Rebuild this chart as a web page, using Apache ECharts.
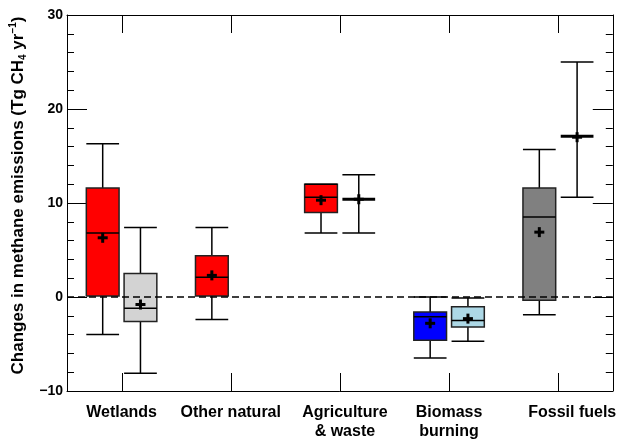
<!DOCTYPE html>
<html>
<head>
<meta charset="utf-8">
<script src="https://cdn.jsdelivr.net/npm/echarts@6/dist/echarts.min.js"></script>
<style>
html,body{margin:0;padding:0;background:#fff;}
#chart{width:619px;height:441px;}
</style>
</head>
<body>
<div id="chart"></div>
<script>
// ---- data ----
const categories = ['Wetlands', 'Other natural', 'Agriculture\n& waste', 'Biomass\nburning', 'Fossil fuels'];
const yTicks = [-10, 0, 10, 20, 30];

// left box of each pair
const leftMin    = [-4.0, -2.4,  6.8, -6.5, -1.9];
const leftQ1     = [ 0.1,  0.1,  9.0, -4.6, -0.35];
const leftMedian = [ 6.8,  2.1, 10.6, -2.1,  8.5];
const leftQ3     = [11.6,  4.4, 12.0, -1.6, 11.6];
const leftMax    = [16.3,  7.4, 12.0,  0.0, 15.7];
const leftMean   = [ 6.3,  2.3, 10.3, -2.8,  6.9];

// right box / whisker of each pair (null = not present)
const rightMin    = [-8.1, null,  6.8, -4.7, 10.6];
const rightQ1     = [-2.6, null, null, -3.2, null];
const rightMedian = [-1.2, null, 10.4, -2.5, 17.1];
const rightQ3     = [ 2.5, null, null, -1.05, null];
const rightMax    = [ 7.4, null, 13.0, -0.1, 25.0];
const rightMean   = [-0.8, null, 10.4, -2.3, 17.0];

// ---- styles ----
const leftColors  = ['#ff0000', '#ff0000', '#ff0000', '#0000ff', '#808080'];
const rightColors = ['#d3d3d3', null, null, '#add8e6', null];
const FONT = '"Liberation Sans", Arial, sans-serif';
const Y_MIN = yTicks[0], Y_MAX = yTicks[yTicks.length - 1];

function seg(x1, y1, x2, y2, w) {
  return { type: 'line', shape: { x1, y1, x2, y2 }, style: { stroke: '#000', lineWidth: w } };
}

function makeRender(mins, q1s, meds, q3s, maxs, means, colors, side) {
  return function (params, api) {
    const i = params.dataIndex;
    if (mins[i] == null) return;
    const bw = api.size([1, 0])[0];
    const cx = api.coord([i, 0])[0] + side * bw * 0.173;
    const half = bw * 0.15;
    const Y = v => api.coord([i, v])[1];
    const ch = [];
    const hasBox = q1s[i] != null && q3s[i] != null;
    if (hasBox) {
      ch.push(seg(cx, Y(maxs[i]), cx, Y(q3s[i]), 1.5));
      ch.push(seg(cx, Y(q1s[i]), cx, Y(mins[i]), 1.5));
      ch.push({
        type: 'rect',
        shape: { x: cx - half, y: Y(q3s[i]), width: 2 * half, height: Y(q1s[i]) - Y(q3s[i]) },
        style: { fill: colors[i], stroke: '#222', lineWidth: 1.5 }
      });
      ch.push(seg(cx - half, Y(meds[i]), cx + half, Y(meds[i]), 1.5));
    } else {
      ch.push(seg(cx, Y(maxs[i]), cx, Y(mins[i]), 1.5));
      ch.push(seg(cx - half, Y(meds[i]), cx + half, Y(meds[i]), 3));
    }
    ch.push(seg(cx - half, Y(maxs[i]), cx + half, Y(maxs[i]), 1.5));
    ch.push(seg(cx - half, Y(mins[i]), cx + half, Y(mins[i]), 1.5));
    const my = Y(means[i]);
    ch.push(seg(cx - 5, my, cx + 5, my, 3));
    ch.push(seg(cx, my - 5, cx, my + 5, 3));
    return { type: 'group', children: ch };
  };
}

// category-centre ticks on bottom and top frame edges
function renderCatTicks(params, api) {
  const i = params.dataIndex;
  const x = Math.round(api.coord([i, 0])[0]) + 0.5;
  const yb = api.coord([i, Y_MIN])[1];
  const yt = api.coord([i, Y_MAX])[1];
  return { type: 'group', children: [seg(x, yb, x, yb - 18, 1), seg(x, yt, x, yt + 18, 1)] };
}

const catData = categories.map((c, i) => [i, leftMedian[i]]);

const chart = echarts.init(document.getElementById('chart'), null, { renderer: 'canvas' });
chart.setOption({
  animation: false,
  backgroundColor: '#fff',
  grid: { left: 67, right: 4, top: 15, bottom: 46, containLabel: false },
  xAxis: [{
    type: 'category',
    data: categories,
    boundaryGap: true,
    axisLine: { show: true, onZero: false, lineStyle: { color: '#000', width: 1 } },
    axisTick: { show: false },
    axisLabel: {
      interval: 0, margin: 12, color: '#000', fontFamily: FONT, fontWeight: 'bold', fontSize: 16, lineHeight: 19,
      formatter: function (v, idx) {
        if (idx === 4) return '{f|' + v + '}';
        if (idx === 2) return v.split('\n').map(s => '{a|' + s + '}').join('\n');
        return v;
      },
      rich: {
        f: { padding: [0, 0, 0, 28], fontFamily: FONT, fontWeight: 'bold', fontSize: 16, color: '#000' },
        a: { padding: [0, 0, 0, 10], fontFamily: FONT, fontWeight: 'bold', fontSize: 16, color: '#000', lineHeight: 19 }
      }
    },
    splitLine: { show: false }
  }, {
    type: 'category',
    data: categories,
    position: 'top',
    boundaryGap: true,
    axisLine: { show: true, onZero: false, lineStyle: { color: '#000', width: 1 } },
    axisTick: { show: false },
    axisLabel: { show: false },
    splitLine: { show: false }
  }],
  yAxis: [{
    type: 'value',
    min: Y_MIN, max: Y_MAX, interval: 10,
    axisLine: { show: true, onZero: false, lineStyle: { color: '#000', width: 1 } },
    axisTick: { show: true, inside: true, length: 20, lineStyle: { color: '#000' } },
    minorTick: { show: true, splitNumber: 5, length: 7, lineStyle: { color: '#000' } },
    splitLine: { show: false },
    axisLabel: {
      margin: 4, color: '#000', fontFamily: FONT, fontWeight: 'bold', fontSize: 14,
      formatter: v => (v < 0 ? '\u2212' + Math.abs(v) : String(v))
    },
    name: 'Changes in methane emissions (Tg CH{sub|4} yr{sup|\u22121})',
    nameLocation: 'middle',
    nameRotate: 90,
    nameGap: 33,
    nameTextStyle: {
      color: '#000', fontFamily: FONT, fontWeight: 'bold', fontSize: 17, lineHeight: 20,
      padding: [0, 0, 0, 15],
      rich: {
        sub: { fontFamily: FONT, fontWeight: 'bold', fontSize: 10, verticalAlign: 'bottom', color: '#000' },
        sup: { fontFamily: FONT, fontWeight: 'bold', fontSize: 10, verticalAlign: 'top', color: '#000' }
      }
    }
  }, {
    type: 'value',
    position: 'right',
    min: Y_MIN, max: Y_MAX, interval: 10,
    axisLine: { show: true, onZero: false, lineStyle: { color: '#000', width: 1 } },
    axisTick: { show: true, inside: true, length: 20, lineStyle: { color: '#000' } },
    minorTick: { show: true, splitNumber: 5, length: 7, lineStyle: { color: '#000' } },
    axisLabel: { show: false },
    splitLine: { show: false }
  }],
  series: [{
    type: 'custom',
    xAxisIndex: 0, yAxisIndex: 0,
    data: catData,
    encode: { x: 0, y: 1 },
    clip: false,
    z: 1,
    silent: true,
    renderItem: renderCatTicks
  }, {
    type: 'custom',
    xAxisIndex: 0, yAxisIndex: 0,
    data: catData,
    encode: { x: 0, y: 1 },
    clip: false,
    z: 2,
    renderItem: makeRender(leftMin, leftQ1, leftMedian, leftQ3, leftMax, leftMean, leftColors, -1)
  }, {
    type: 'custom',
    xAxisIndex: 0, yAxisIndex: 0,
    data: catData,
    encode: { x: 0, y: 1 },
    clip: false,
    z: 2,
    renderItem: makeRender(rightMin, rightQ1, rightMedian, rightQ3, rightMax, rightMean, rightColors, 1)
  }, {
    type: 'line',
    xAxisIndex: 0, yAxisIndex: 0,
    data: [],
    z: 5,
    markLine: {
      silent: true,
      symbol: ['none', 'none'],
      label: { show: false },
      lineStyle: { color: '#000', type: [7, 4], width: 1.5 },
      data: [{ yAxis: 0 }]
    }
  }]
});
</script>
</body>
</html>
